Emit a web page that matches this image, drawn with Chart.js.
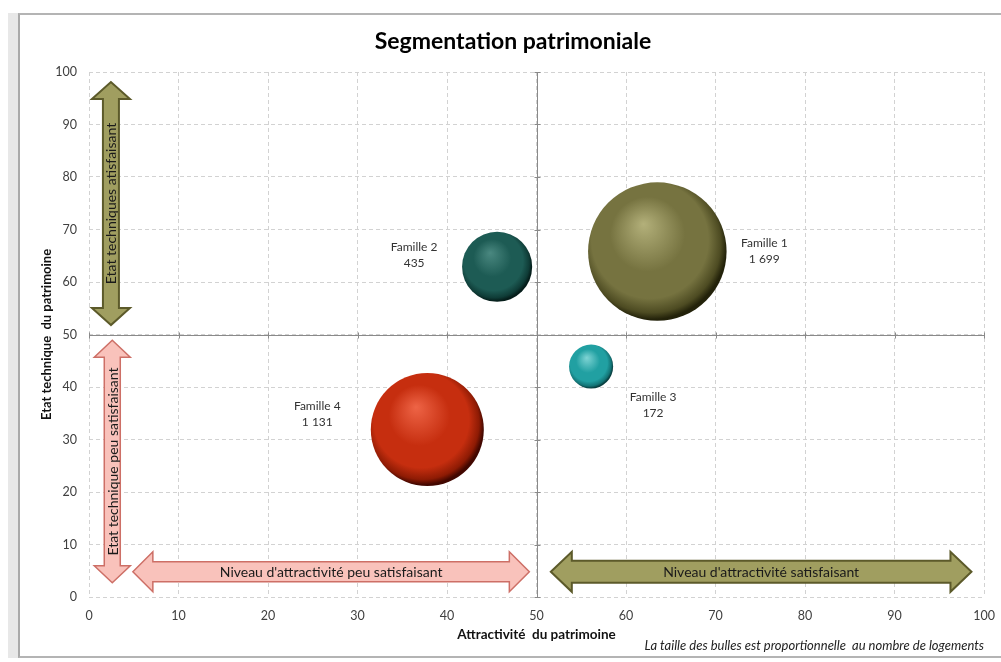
<!DOCTYPE html>
<html>
<head>
<meta charset="utf-8">
<script src="https://cdn.jsdelivr.net/npm/chart.js@4.4.1/dist/chart.umd.min.js"></script>
<style>
  html, body { margin: 0; padding: 0; background: #fff; }
  #wrap { position: relative; width: 1001px; height: 662px; overflow: hidden; }
  #frame { position: absolute; left: 8px; top: 13px; width: 1010px; height: 645px; border-left: 10px solid #e8e8e8; }
  #frame div { position: absolute; left: 0; top: 0; right: 0; bottom: 0;
    border-top: 2px solid #b4b4b4; border-left: 2px solid #aaaaaa; border-bottom: 2px solid #b4b4b4; }
  canvas { position: absolute; left: 0; top: 0; }
</style>
</head>
<body>
<div id="wrap">
  <div id="frame"><div></div></div>
  <canvas id="segChart" width="1001" height="662"></canvas>
</div>
<script>
// --- data ---
const familles      = ['Famille 1', 'Famille 2', 'Famille 3', 'Famille 4'];
const attractivite  = [63.5, 45.6, 56.1, 37.8];
const etatTechnique = [65.8, 62.9, 43.9, 31.9];
const logements     = [1699, 435, 172, 1131];

const FONT = 'Lato, "Open Sans", sans-serif';

// sphere colours per famille: [highlight, base, shade, edge]
const sphereCols = [
  ['#b3b07a', '#767340', '#4d4b22', '#23220a'],
  ['#4a8880', '#1d5b54', '#0f3c37', '#051d1a'],
  ['#7fd4d4', '#21a0a2', '#137476', '#083f40'],
  ['#ee6446', '#c62e0f', '#8e1b04', '#420700']
];
// label placement relative to bubble centre (px)
const labelShift = [[107, 0], [-83, -12], [62, 39], [-110, -15]];

// annotation arrows (data coordinates)
const fleches = [
  { from: [2.45, 51.8], to: [2.45, 98.1], texte: 'Etat techniques atisfaisant', theme: 'olive', shaft: 16, head: 38, headLen: 17 },
  { from: [2.6, 2.7],   to: [2.6, 48.9],  texte: 'Etat technique peu satisfaisant', theme: 'rose', shaft: 16, head: 36, headLen: 17 },
  { from: [4.9, 4.8],   to: [49.2, 4.8],  texte: "Niveau d'attractivité peu satisfaisant", theme: 'rose', shaft: 20, head: 40, headLen: 20 },
  { from: [51.6, 4.8],  to: [98.6, 4.8],  texte: "Niveau d'attractivité satisfaisant", theme: 'olive', shaft: 22, head: 40, headLen: 21 }
];
const themes = {
  olive: { fill: '#a09e60', stroke: '#5c5a2a', width: 2 },
  rose:  { fill: '#f9c2bb', stroke: '#cd6f66', width: 1.5 }
};

const bubbleRadius = v => 1.68 * Math.sqrt(v);
const fmt = v => String(v).replace(/\B(?=(\d{3})+(?!\d))/g, ' ');

function sphere(ctx) {
  const i = ctx.dataIndex;
  const cols = sphereCols[i] || sphereCols[0];
  const chart = ctx.chart;
  const sx = chart.scales.x, sy = chart.scales.y;
  if (ctx.type !== 'data' || !sx || !sy || !ctx.raw) return cols[1];
  const cx = sx.getPixelForValue(ctx.raw.x);
  const cy = sy.getPixelForValue(ctx.raw.y);
  const r = ctx.raw.r;
  if (![cx, cy, r].every(Number.isFinite)) return cols[1];
  const g = chart.ctx.createRadialGradient(cx - r * 0.2, cy - r * 0.4, 0, cx - r * 0.08, cy - r * 0.1, r * 1.08);
  g.addColorStop(0, cols[0]);
  g.addColorStop(0.5, cols[1]);
  g.addColorStop(0.78, cols[1]);
  g.addColorStop(0.93, cols[2]);
  g.addColorStop(1, cols[3]);
  return g;
}

function doubleArrow(c, x1, y1, x2, y2, f) {
  const len = Math.hypot(x2 - x1, y2 - y1);
  const ang = Math.atan2(y2 - y1, x2 - x1);
  const s = f.shaft / 2, h = f.head / 2, hl = f.headLen;
  const th = themes[f.theme];
  c.save();
  c.translate(x1, y1);
  c.rotate(ang);
  c.beginPath();
  c.moveTo(0, 0);
  c.lineTo(hl, -h); c.lineTo(hl, -s); c.lineTo(len - hl, -s); c.lineTo(len - hl, -h);
  c.lineTo(len, 0);
  c.lineTo(len - hl, h); c.lineTo(len - hl, s); c.lineTo(hl, s); c.lineTo(hl, h);
  c.closePath();
  c.fillStyle = th.fill;
  c.fill();
  c.lineWidth = th.width;
  c.strokeStyle = th.stroke;
  c.lineJoin = 'miter';
  c.stroke();
  c.fillStyle = '#1a1a1a';
  c.font = '14px ' + FONT;
  c.textAlign = 'center';
  c.textBaseline = 'middle';
  c.fillText(f.texte, len / 2, 1);
  c.restore();
}

const quadrants = {
  id: 'quadrants',
  beforeDatasetsDraw(chart) {
    const { ctx, chartArea: a, scales: { x, y } } = chart;
    const px = Math.round(x.getPixelForValue(50)) + 0.5;
    const py = Math.round(y.getPixelForValue(50)) + 0.5;
    ctx.save();
    ctx.strokeStyle = '#8a8a8a';
    ctx.lineWidth = 1;
    ctx.beginPath();
    ctx.moveTo(px, a.top); ctx.lineTo(px, a.bottom);
    ctx.moveTo(a.left, py); ctx.lineTo(a.right, py);
    // small tick marks on the crossing axes
    y.ticks.forEach(t => { const p = Math.round(y.getPixelForValue(t.value)) + 0.5; ctx.moveTo(px - 3, p); ctx.lineTo(px + 3, p); });
    x.ticks.forEach(t => { const p = Math.round(x.getPixelForValue(t.value)) + 0.5; ctx.moveTo(p, py - 3); ctx.lineTo(p, py + 3); });
    ctx.stroke();
    fleches.forEach(f => {
      doubleArrow(ctx,
        x.getPixelForValue(f.from[0]), y.getPixelForValue(f.from[1]),
        x.getPixelForValue(f.to[0]), y.getPixelForValue(f.to[1]), f);
    });
    ctx.restore();
  }
};

const bubbleLabels = {
  id: 'bubbleLabels',
  afterDatasetsDraw(chart) {
    const { ctx } = chart;
    const meta = chart.getDatasetMeta(0);
    ctx.save();
    ctx.font = '12px ' + FONT;
    ctx.fillStyle = '#333333';
    ctx.textAlign = 'center';
    ctx.textBaseline = 'middle';
    meta.data.forEach((el, i) => {
      const [dx, dy] = labelShift[i];
      ctx.fillText(familles[i], el.x + dx, el.y + dy - 8);
      ctx.fillText(fmt(logements[i]), el.x + dx, el.y + dy + 8);
    });
    ctx.restore();
  }
};

new Chart(document.getElementById('segChart'), {
  type: 'bubble',
  data: {
    datasets: [{
      label: 'Familles',
      data: familles.map((f, i) => ({ x: attractivite[i], y: etatTechnique[i], r: bubbleRadius(logements[i]) })),
      backgroundColor: sphere,
      borderWidth: 0,
      hoverBorderWidth: 0
    }]
  },
  options: {
    responsive: false,
    animation: false,
    events: [],
    layout: { autoPadding: false, padding: { left: 42, right: 17, top: 0, bottom: 0 } },
    plugins: {
      legend: { display: false },
      tooltip: { enabled: false },
      title: {
        display: true,
        text: 'Segmentation patrimoniale',
        color: '#000',
        font: { family: FONT, size: 23, weight: 'bold', lineHeight: 1.2 },
        padding: { top: 28.2, bottom: 16.2 }
      },
      subtitle: {
        display: true,
        position: 'bottom',
        align: 'end',
        text: 'La taille des bulles est proportionnelle  au nombre de logements',
        color: '#222',
        font: { family: FONT, size: 13, style: 'italic', lineHeight: 1.2 },
        padding: { top: -9, bottom: 8.4 }
      }
    },
    scales: {
      x: {
        min: 0, max: 100,
        ticks: { stepSize: 10, padding: 11, color: '#404040', font: { family: FONT, size: 12.5 } },
        grid: { color: '#d2d2d2', drawTicks: false },
        border: { display: false, dash: [4, 3] },
        title: {
          display: true, text: 'Attractivité  du patrimoine', color: '#111',
          font: { family: FONT, size: 13.5, weight: 'bold' }, padding: { top: 0, bottom: 4 }
        },
        afterFit(scale) { scale.height = 50; scale.paddingLeft = 0; scale.paddingRight = 0; }
      },
      y: {
        min: 0, max: 100,
        ticks: { stepSize: 10, padding: 12, color: '#404040', font: { family: FONT, size: 12.5 } },
        grid: { color: '#d2d2d2', drawTicks: false },
        border: { display: false, dash: [4, 3] },
        title: {
          display: true, text: 'Etat technique  du patrimoine', color: '#111',
          font: { family: FONT, size: 13, weight: 'bold' }, padding: { top: -3, bottom: 0 }
        },
        afterFit(scale) { scale.width = 47; }
      }
    }
  },
  plugins: [quadrants, bubbleLabels]
});
</script>
</body>
</html>
